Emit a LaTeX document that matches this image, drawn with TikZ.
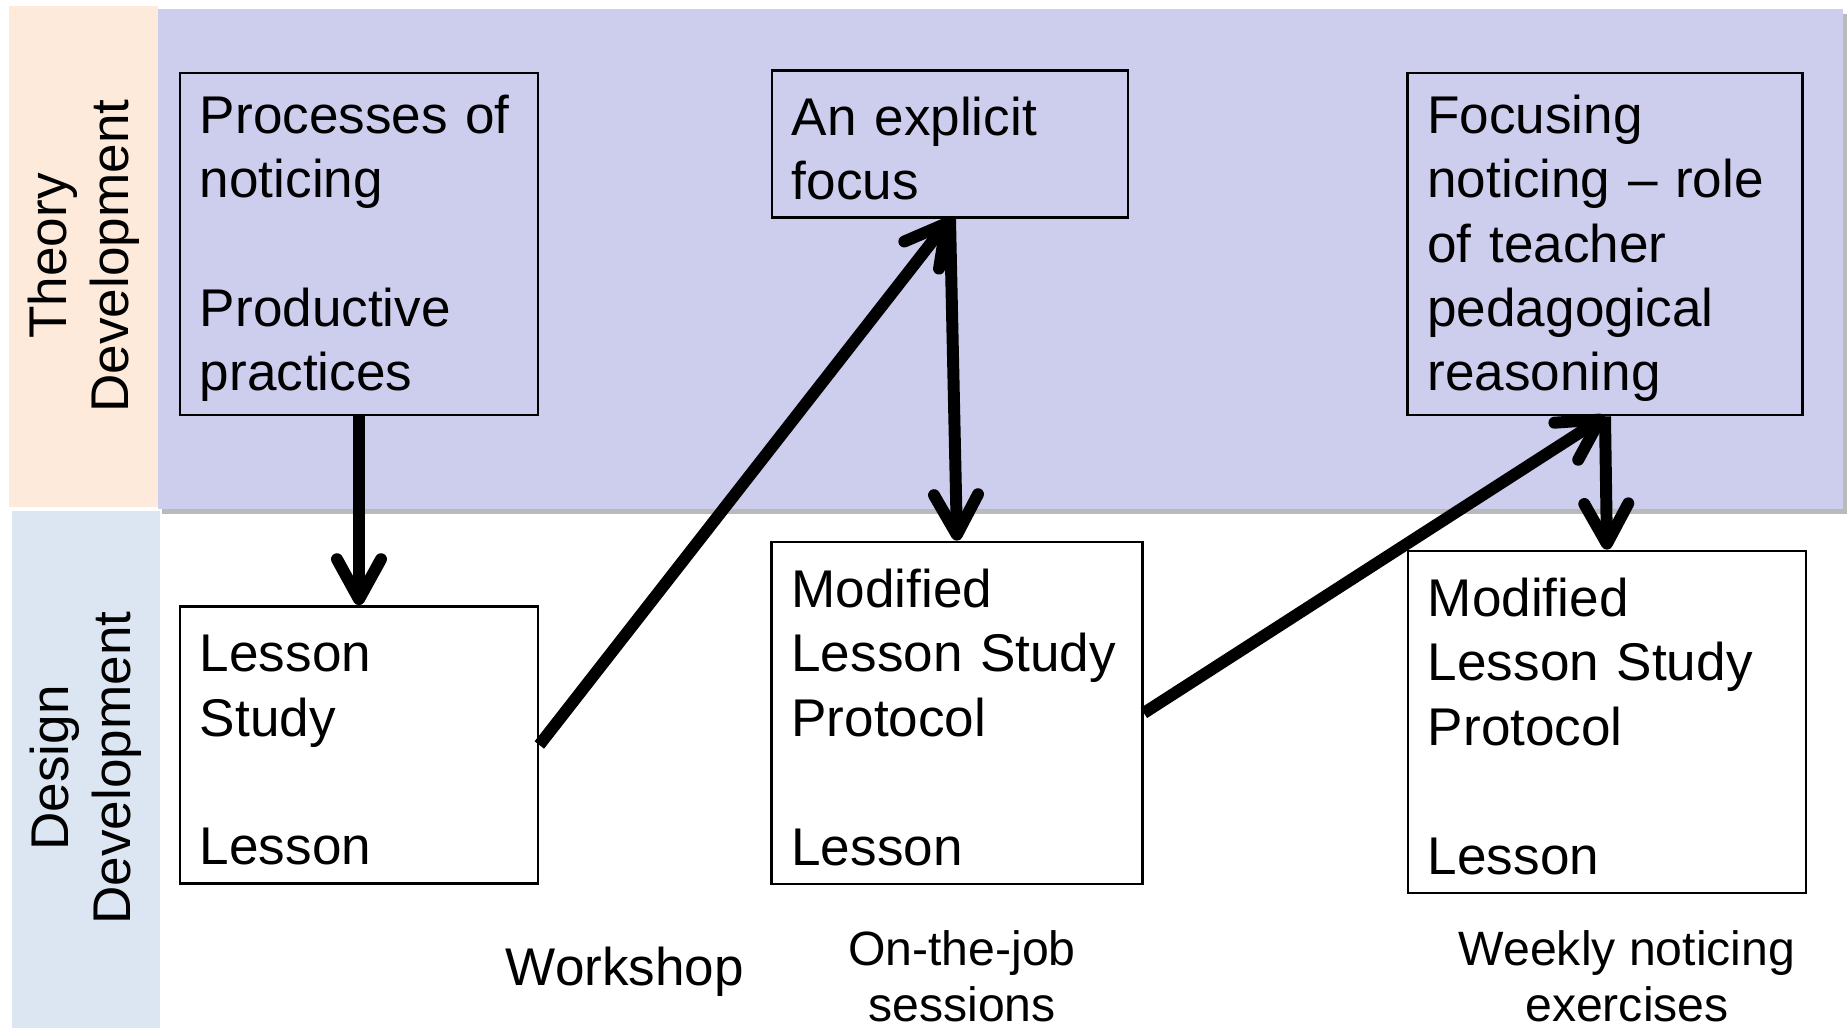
\documentclass[tikz,border=0pt]{standalone}
\usepackage{fontspec}
\setmainfont{Liberation Sans}
\usepackage{tikz}
\usetikzlibrary{arrows.meta, positioning, shadows}
\definecolor{TheoryPeach}{HTML}{FDEADA}
\definecolor{TheoryLavender}{HTML}{CDCDED}
\definecolor{DesignBlue}{HTML}{DCE6F2}
\newcommand{\boxfont}{\fontsize{15.1pt}{18.3pt}\selectfont}
\newcommand{\tagfont}{\fontsize{13.7pt}{16pt}\selectfont}
\newcommand{\firstline}{\rule{0pt}{13.4pt}}
\tikzset{
    stagebox/.style={
        draw=black,
        fill=#1,
        line width=0.7pt,
        text=black,
        font=\boxfont,
        align=left,
        inner xsep=0.2cm,
        inner ysep=0.1cm
    },
    stagebox/.default=white,
    bandlabel/.style={
        rotate=90,
        font=\fontsize{15.1pt}{17.6pt}\selectfont,
        align=center
    },
    sessionlabel/.style={
        font=\tagfont,
        align=center
    },
    flow/.style={
        -{Straight Barb[round, length=0.40cm, width=0.44cm]},
        line width=3.4pt,
        black
    }
}

\begin{document}
\begin{tikzpicture}[x=0.01cm, y=-0.01cm]
        \useasboundingbox (0,0) rectangle (1847,1033);

        % Bands
        \fill[TheoryPeach] (9,6) rectangle (158,507);
        \fill[TheoryLavender, drop shadow={shadow xshift=1pt, shadow yshift=-1.5pt, fill=black!45, opacity=0.6}] (158,9) rectangle (1843,509);
        \fill[DesignBlue] (12,511) rectangle (160,1028);
        \node[bandlabel] (theory) at (84,256) {Theory\\Development};
        \node[bandlabel] (design) at (86,768) {Design\\Development};

        % Theory boxes
        \node[stagebox=none, minimum width=3.58cm, minimum height=3.42cm, text width=3.18cm] (noticing) at (359,244) {\firstline Processes of\\noticing\\[18.3pt]Productive\\practices};
        \node[stagebox=none, minimum width=3.56cm, minimum height=1.47cm, text width=3.16cm] (focus) at (950,144) {\firstline An explicit\\focus};
        \node[stagebox=none, minimum width=3.95cm, minimum height=3.42cm, text width=3.55cm] (reasoning) at (1605,244) {\firstline Focusing\\noticing -- role\\of teacher\\pedagogical\\reasoning};

        % Design boxes
        \node[stagebox, minimum width=3.58cm, minimum height=2.77cm, text width=3.18cm] (study) at (359,745) {\firstline Lesson\\Study\\[18.3pt]Lesson};
        \node[stagebox, minimum width=3.71cm, minimum height=3.42cm, text width=3.31cm] (protocol) at (957,713) {\firstline Modified\\Lesson Study\\Protocol\\[18.3pt]Lesson};
        \node[stagebox, minimum width=3.98cm, minimum height=3.42cm, text width=3.58cm] (weekly) at (1607,722) {\firstline Modified\\Lesson Study\\Protocol\\[18.3pt]Lesson};

        % Arrows
        \draw[flow] (noticing.south) -- (study.north);
        \draw[flow] (study.east) -- (focus.south);
        \draw[flow] (focus.south) -- (protocol.north);
        \draw[flow] (protocol.east) -- (reasoning.south);
        \draw[flow] (reasoning.south) -- (weekly.north);

        % Session labels
        \node[sessionlabel, font=\fontsize{15.1pt}{18pt}\selectfont] (workshop) at (625,972) {Workshop};
        \node[sessionlabel] (onjob) at (962,976) {On-the-job\\sessions};
        \node[sessionlabel] (exercises) at (1627,976) {Weekly noticing\\exercises};
    \end{tikzpicture}
\end{document}
